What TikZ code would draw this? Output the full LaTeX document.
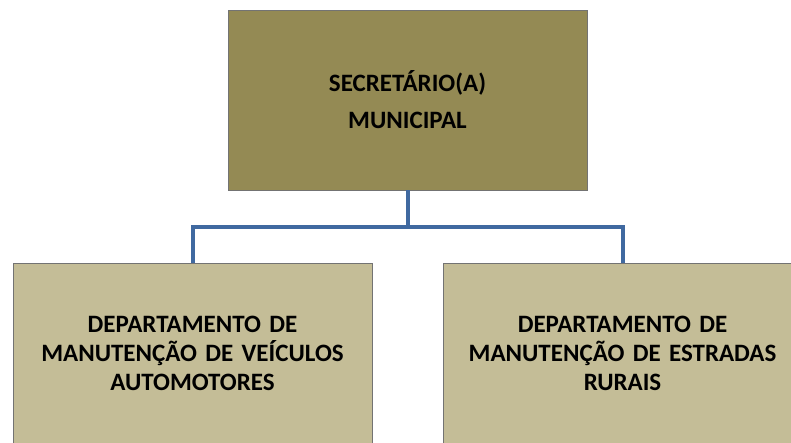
\documentclass[tikz,border=0pt]{standalone}
\usepackage{fontspec}
\setmainfont{Carlito}
\usetikzlibrary{positioning}

\definecolor{olivedark}{RGB}{148,138,84}
\definecolor{olivelight}{RGB}{196,189,151}
\definecolor{linkblue}{RGB}{64,105,160}

\begin{document}
\begin{tikzpicture}[
      x = 1pt, y = -1pt,           % pixel units, y downwards
      node distance = 73pt,        % gap between levels
      thick
    ]

    \tikzstyle{Chief}=[      % Defines style for the top box
      draw = black!55,
      fill = olivedark,
      minimum width = 359pt,
      minimum height = 180pt,
      text width = 340pt,
      align = center,
      font = \bfseries\fontsize{25}{37}\selectfont
    ]

    \tikzstyle{Dept}=[       % Defines style for the departments
      draw = black!55,
      fill = olivelight,
      minimum width = 359pt,
      minimum height = 180pt,
      text width = 340pt,
      align = center,
      font = \bfseries\fontsize{25}{29}\selectfont
    ]

    \tikzstyle{Link}=[       % Defines style for the connectors
      draw = linkblue,
      line width = 4pt
    ]

    \useasboundingbox (0,0) rectangle (791,442);
    \clip (0,0) rectangle (791,442);

    % Definition of the nodes
    \node[Chief] (secr) at (407.5,100) {SECRETÁRIO(A)\\MUNICIPAL};
    \node[Dept] (veic) [below=73pt of secr, xshift=-215pt]
      {DEPARTAMENTO DE\\MANUTENÇÃO DE VEÍCULOS\\AUTOMOTORES};
    \node[Dept] (estr) [below=73pt of secr, xshift=215pt]
      {DEPARTAMENTO DE\\MANUTENÇÃO DE ESTRADAS\\RURAIS};

    % Definition of the edges
    \coordinate (split) at ([yshift=-37pt]secr.south);
    \draw[Link] (secr.south) -- (split);
    \draw[Link] (split) -| (veic.north);
    \draw[Link] (split) -| (estr.north);

  \end{tikzpicture}
\end{document}
